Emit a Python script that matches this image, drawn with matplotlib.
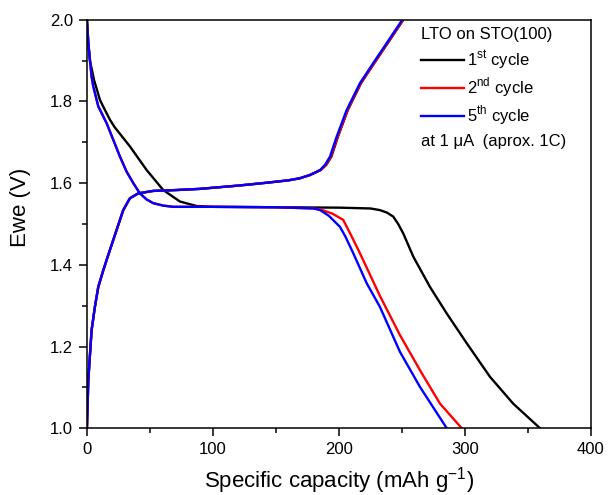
import matplotlib
matplotlib.use("Agg")
from matplotlib import pyplot as plt

plt.rcParams["font.family"] = ["Liberation Sans", "DejaVu Sans"]
plt.rcParams["mathtext.fontset"] = "custom"
plt.rcParams["mathtext.rm"] = "Liberation Sans"

# 1er ciclo (negro)
desc1_x = [0, 1.1, 2.4, 5.6, 10.3, 13, 18.3, 22, 34.1, 47.4, 60.6, 73.8, 87, 100, 150, 200, 225,
           232.5, 238, 243.1, 247, 251, 259, 272.2, 285.5, 301.4, 319.8, 338.3, 359.5]
desc1_y = [2.0, 1.943, 1.90, 1.853, 1.804, 1.787, 1.755, 1.737, 1.69, 1.632, 1.583, 1.555, 1.544,
           1.542, 1.541, 1.540, 1.538, 1.534, 1.528, 1.518, 1.5, 1.477, 1.42, 1.346, 1.281,
           1.208, 1.126, 1.06, 1.0]
carga1_x = [0, 1.1, 2.4, 3.7, 6.3, 9, 13, 16.9, 20.9, 24.9, 28.8, 34.1, 40.7, 52.6, 70, 89.7,
            120, 142.6, 160, 169, 177, 185.5, 190, 194, 199.2, 207, 217.5, 228, 238.7, 250.6]
carga1_y = [1.0, 1.118, 1.18, 1.24, 1.297, 1.346, 1.387, 1.424, 1.461, 1.498, 1.534, 1.563,
            1.575, 1.581, 1.583, 1.586, 1.594, 1.601, 1.607, 1.612, 1.62, 1.632, 1.645, 1.665,
            1.714, 1.779, 1.845, 1.894, 1.943, 1.998]

# 2do ciclo (rojo)
desc2_x = [0, 1.1, 2.4, 3.7, 5, 9, 15.6, 20.9, 26.2, 31.5, 36.8, 42, 47.4, 52.6, 60.6, 68.5,
           100, 150, 180, 186, 195, 203.4, 210, 216.7, 232.5, 248.4, 264.3, 280.2, 297.4]
desc2_y = [2.0, 1.943, 1.90, 1.861, 1.837, 1.788, 1.747, 1.706, 1.665, 1.628, 1.60, 1.575,
           1.560, 1.551, 1.545, 1.542, 1.542, 1.541, 1.538, 1.535, 1.525, 1.51, 1.47, 1.428,
           1.324, 1.228, 1.142, 1.06, 1.0]
carga2_x = [0, 1.1, 2.4, 3.7, 6.3, 9, 13, 16.9, 20.9, 24.9, 28.8, 34.1, 40.7, 52.6, 70, 89.7,
            120, 142.6, 160, 169, 177, 185.3, 189.8, 193.7, 199, 206.9, 217.4, 228, 238.6, 250.5]
carga2_y = [1.0, 1.118, 1.18, 1.24, 1.297, 1.346, 1.387, 1.424, 1.461, 1.498, 1.534, 1.563,
            1.575, 1.581, 1.583, 1.586, 1.594, 1.601, 1.607, 1.612, 1.62, 1.632, 1.645, 1.665,
            1.714, 1.779, 1.845, 1.894, 1.943, 1.998]

# 5to ciclo (azul)
desc5_x = [0, 1.1, 2.4, 3.7, 5, 9, 15.6, 20.9, 26.2, 31.5, 36.8, 42, 47.4, 52.6, 60.6, 68.5,
           100, 150, 180, 185, 192, 200.8, 205, 211.4, 222, 232.5, 248.4, 264.3, 275, 285.5]
desc5_y = [2.0, 1.943, 1.90, 1.861, 1.837, 1.788, 1.747, 1.706, 1.665, 1.628, 1.60, 1.575,
           1.560, 1.551, 1.545, 1.542, 1.542, 1.541, 1.538, 1.534, 1.52, 1.493, 1.47, 1.428,
           1.355, 1.297, 1.187, 1.101, 1.05, 1.0]
carga5_x = [0, 1.1, 2.4, 3.7, 6.3, 9, 13, 16.9, 20.9, 24.9, 28.8, 34.1, 40.7, 52.6, 70, 89.7,
            120, 142.6, 160, 169, 177, 185, 189, 192.9, 198.2, 206.1, 216.7, 227.2, 237.9, 249.8]
carga5_y = [1.0, 1.118, 1.18, 1.24, 1.297, 1.346, 1.387, 1.424, 1.461, 1.498, 1.534, 1.563,
            1.575, 1.581, 1.583, 1.586, 1.594, 1.601, 1.607, 1.612, 1.62, 1.632, 1.645, 1.665,
            1.714, 1.779, 1.845, 1.894, 1.943, 1.998]

etiquetas = ["1$^{\\mathrm{st}}$ cycle", "2$^{\\mathrm{nd}}$ cycle", "5$^{\\mathrm{th}}$ cycle"]
colores = ["black", "red", "blue"]

fig = plt.figure(figsize=(6.08, 4.95), dpi=100)
ax = fig.add_axes([0.143, 0.135, 0.829, 0.825])

series = [(desc1_x, desc1_y, carga1_x, carga1_y),
          (desc2_x, desc2_y, carga2_x, carga2_y),
          (desc5_x, desc5_y, carga5_x, carga5_y)]
lineas = []
for (dx, dy, cx, cy), col, lab in zip(series, colores, etiquetas):
    l, = ax.plot(dx, dy, color=col, lw=1.7, label=lab)
    ax.plot(cx, cy, color=col, lw=1.7)
    lineas.append(l)

ax.set_xlim(0, 400)
ax.set_ylim(1.0, 2.0)
ax.set_xticks([0, 100, 200, 300, 400])
ax.set_xticks([50, 150, 250, 350], minor=True)
ax.set_yticks([1.0, 1.2, 1.4, 1.6, 1.8, 2.0])
ax.set_yticks([1.1, 1.3, 1.5, 1.7, 1.9], minor=True)
ax.set_yticklabels(["1.0", "1.2", "1.4", "1.6", "1.8", "2.0"])
ax.tick_params(which="major", direction="out", length=6, width=1.1, labelsize=12, pad=4)
ax.tick_params(which="minor", direction="out", length=3.5, width=1.1)
for s in ax.spines.values():
    s.set_linewidth(1.1)

ax.set_xlabel("Specific capacity (mAh g$^{\\mathrm{-1}}$)", fontsize=16, labelpad=6)
ax.set_ylabel("Ewe (V)", fontsize=16)
ax.yaxis.set_label_coords(-0.111, 0.54)

# leyenda: titulo y nota como texto aparte
ax.text(0.663, 0.963, "LTO on STO(100)", transform=ax.transAxes, fontsize=12,
        va="center", ha="left")
leg = ax.legend(handles=lineas, loc="upper left", bbox_to_anchor=(0.663, 0.93),
                frameon=False, fontsize=12, handlelength=2.6, handletextpad=0.15,
                labelspacing=0.25, borderpad=0, borderaxespad=0)
ax.text(0.663, 0.703, "at 1 μA  (aprox. 1C)", transform=ax.transAxes, fontsize=12,
        va="center", ha="left")

fig.savefig("out.png", dpi=100)
plt.close(fig)
